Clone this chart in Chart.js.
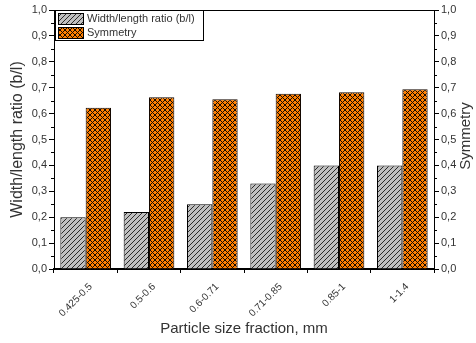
<!DOCTYPE html>
<html>
<head>
<meta charset="utf-8">
<script src="https://cdn.jsdelivr.net/npm/chart.js@4/dist/chart.umd.min.js"></script>
<style>
  html, body { margin: 0; padding: 0; background: #fff; }
  #wrap { width: 476px; height: 343px; }
</style>
</head>
<body>
<div id="wrap"><canvas id="myChart" width="476" height="343"></canvas></div>
<script>
var fractions = ["0.425-0.5", "0.5-0.6", "0.6-0.71", "0.71-0.85", "0.85-1", "1-1.4"];
var ratioValues = [0.20, 0.22, 0.25, 0.33, 0.40, 0.40];
var symmetryValues = [0.623, 0.663, 0.655, 0.677, 0.682, 0.694];
var yTicks = [0, 0.1, 0.2, 0.3, 0.4, 0.5, 0.6, 0.7, 0.8, 0.9, 1.0];

var FONT = "'Liberation Sans', Arial, sans-serif";
var TXT = '#333';

// pixel hatch fills
function hatchPattern() {
  var c = document.createElement('canvas');
  c.width = 5; c.height = 5;
  var g = c.getContext('2d');
  g.fillStyle = '#c0c0c0';
  g.fillRect(0, 0, 5, 5);
  g.fillStyle = '#2a2a2a';
  for (var i = 0; i < 5; i++) g.fillRect(i, 4 - i, 1, 1);
  return g.createPattern(c, 'repeat');
}
function crossPattern() {
  var c = document.createElement('canvas');
  c.width = 5; c.height = 5;
  var g = c.getContext('2d');
  g.fillStyle = '#ff8000';
  g.fillRect(0, 0, 5, 5);
  g.fillStyle = '#140800';
  for (var i = 0; i < 5; i++) {
    g.fillRect(i, i, 1, 1);
    g.fillRect(4 - i, i, 1, 1);
  }
  return g.createPattern(c, 'repeat');
}

var greyFill = hatchPattern();
var orangeFill = crossPattern();

function fmt(v) { return v.toFixed(1).replace('.', ','); }

// frame line on top, minor ticks, right title, legend box
var extras = {
  id: 'extras',
  afterDraw: function (chart) {
    var ctx = chart.ctx, a = chart.chartArea;
    var y = chart.scales.y;
    ctx.save();
    ctx.strokeStyle = '#000';
    ctx.lineWidth = 1;
    ctx.beginPath();
    ctx.moveTo(a.left, a.top + 0.5); ctx.lineTo(a.right, a.top + 0.5);
    for (var v = 0.05; v < 1; v += 0.1) {
      var p = Math.round(y.getPixelForValue(v)) + 0.5;
      ctx.moveTo(a.left - 3, p); ctx.lineTo(a.left, p);
      ctx.moveTo(a.right, p); ctx.lineTo(a.right + 3, p);
    }
    ctx.stroke();

    // right axis title, reading upwards
    ctx.save();
    ctx.translate(466, 136);
    ctx.rotate(-Math.PI / 2);
    ctx.font = '15px ' + FONT;
    ctx.fillStyle = TXT;
    ctx.textAlign = 'center';
    ctx.textBaseline = 'middle';
    ctx.fillText('Symmetry', 0, 0);
    ctx.restore();

    // legend
    var lx = a.left + 1, ly = a.top;
    ctx.fillStyle = '#fff';
    ctx.fillRect(lx, ly, 148, 30);
    ctx.strokeRect(lx + 0.5, ly + 0.5, 148, 30);
    ctx.font = '11px ' + FONT;
    ctx.textBaseline = 'middle';
    chart.data.datasets.forEach(function (ds, i) {
      var sy = ly + 3 + i * 14;
      ctx.fillStyle = ds.backgroundColor;
      ctx.fillRect(lx + 3, sy, 25, 11);
      ctx.strokeRect(lx + 3.5, sy + 0.5, 25, 11);
      ctx.fillStyle = TXT;
      ctx.fillText(ds.label, lx + 32, sy + 6);
    });
    ctx.restore();
  }
};

new Chart('myChart', {
  type: 'bar',
  data: {
    labels: fractions,
    datasets: [{
      label: 'Width/length ratio (b/l)',
      data: ratioValues,
      backgroundColor: greyFill,
      borderColor: '#000',
      borderWidth: 1,
      yAxisID: 'y'
    }, {
      label: 'Symmetry',
      data: symmetryValues,
      backgroundColor: orangeFill,
      borderColor: '#140800',
      borderWidth: 1,
      yAxisID: 'y1'
    }]
  },
  options: {
    responsive: false,
    animation: false,
    layout: { padding: { top: 10, left: 0, right: 0, bottom: 0 } },
    datasets: { bar: { categoryPercentage: 0.8, barPercentage: 1.0 } },
    plugins: { legend: { display: false }, tooltip: { enabled: false } },
    scales: {
      x: {
        grid: { offset: true, drawOnChartArea: false, tickLength: 4, color: '#000' },
        border: { color: '#000', width: 2 },
        ticks: { color: TXT, font: { size: 10, family: FONT }, minRotation: 45, maxRotation: 45, padding: 8, labelOffset: 5 },
        title: { display: true, text: 'Particle size fraction, mm', color: TXT, font: { size: 15, family: FONT }, padding: { top: 0, bottom: 5 } },
        afterFit: function (s) { s.height = 74; }
      },
      y: {
        position: 'left',
        min: 0, max: 1,
        afterBuildTicks: function (s) { s.ticks = yTicks.map(function (v) { return { value: v }; }); },
        grid: { drawOnChartArea: false, tickLength: 5, color: '#000' },
        border: { color: '#000', width: 1 },
        ticks: { color: TXT, font: { size: 11, family: FONT }, padding: 2, callback: function (v) { return fmt(v); } },
        title: { display: true, text: 'Width/length ratio (b/l)', color: TXT, font: { size: 16, family: FONT }, padding: { top: 8, bottom: 0 } },
        afterFit: function (s) { s.width = 54; }
      },
      y1: {
        position: 'right',
        min: 0, max: 1,
        afterBuildTicks: function (s) { s.ticks = yTicks.map(function (v) { return { value: v }; }); },
        grid: { drawOnChartArea: false, tickLength: 5, color: '#000' },
        border: { color: '#000', width: 1 },
        ticks: { color: TXT, font: { size: 11, family: FONT }, padding: 2, callback: function (v) { return fmt(v); } },
        afterFit: function (s) { s.width = 42; }
      }
    }
  },
  plugins: [extras]
});
</script>
</body>
</html>
